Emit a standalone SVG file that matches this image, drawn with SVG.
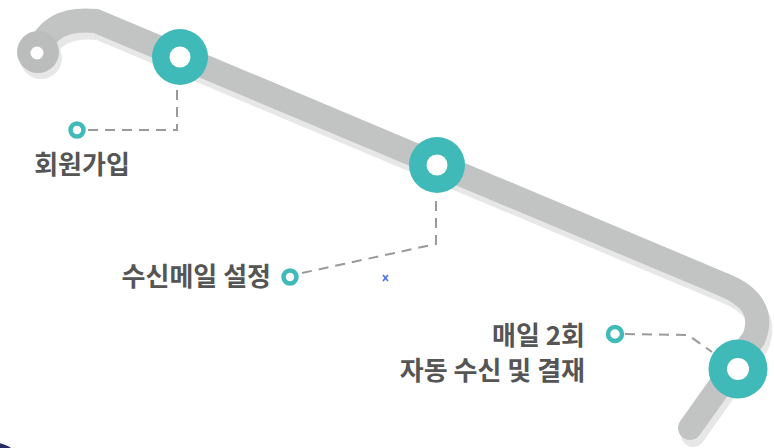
<svg xmlns="http://www.w3.org/2000/svg" width="774" height="448" viewBox="0 0 774 448">
<style>
.road{fill:none;stroke:#c2c3c3;stroke-width:24;stroke-linecap:round;stroke-linejoin:round}
.shadow{fill:none;stroke:#e7e7e7;stroke-width:24;stroke-linecap:round;stroke-linejoin:round}
.node{fill:#3fbab8}
.hole{fill:#fff}
.ring{fill:#fff;stroke:#3fbab8;stroke-width:4.5}
.dash{fill:none;stroke:#9a9a9a;stroke-width:2;stroke-dasharray:10 7}
.lbl{font-family:'Noto Sans CJK KR','Noto Sans',sans-serif;font-size:26px;font-weight:700;fill:#555}
</style>
<defs>
<path id="route" d="M38 52 Q50 16 96 21 L722 284 Q768 302 754 338 L690 428"/>
</defs>
<g id="road">
<use href="#route" class="shadow" transform="translate(3,7)"/>
<circle cx="41" cy="58" r="21" fill="#e7e7e7"/>
<use href="#route" class="road"/>
<circle cx="38" cy="52" r="21" fill="#bbbcbc"/>
<circle cx="37" cy="53" r="6.5" fill="#fff"/>
</g>
<g id="connectors">
<path class="dash" d="M88 130 H177 V88"/>
<path class="dash" d="M302 273 L436 244 V198"/>
<path class="dash" d="M625 334 L688 335 L712 352"/>
</g>
<g id="node1">
<circle class="node" cx="180" cy="57" r="28"/>
<circle class="hole" cx="180" cy="57" r="10.5"/>
<circle class="ring" cx="77" cy="130" r="6.5"/>
<text class="lbl" x="82" y="174" text-anchor="middle">회원가입</text>
</g>
<g id="node2">
<circle class="node" cx="437" cy="165" r="28"/>
<circle class="hole" cx="437" cy="165" r="10.5"/>
<circle class="ring" cx="290" cy="277" r="6.5"/>
<text class="lbl" x="271" y="286" text-anchor="end">수신메일 설정</text>
</g>
<g id="node3">
<circle class="node" cx="738" cy="369" r="29.5"/>
<circle class="hole" cx="738" cy="369" r="11"/>
<circle class="ring" cx="615" cy="334" r="7"/>
<text class="lbl" x="585" y="345" text-anchor="end">매일 2회</text>
<text class="lbl" x="585" y="380" text-anchor="end">자동 수신 및 결재</text>
</g>
<g id="marker">
<path d="M383 275 L388 281 M388 275 L383 281" stroke="#4a6cf0" stroke-width="1.6" fill="none"/>
</g>
<circle cx="-10" cy="482" r="40" fill="#262d66"/>
</svg>
